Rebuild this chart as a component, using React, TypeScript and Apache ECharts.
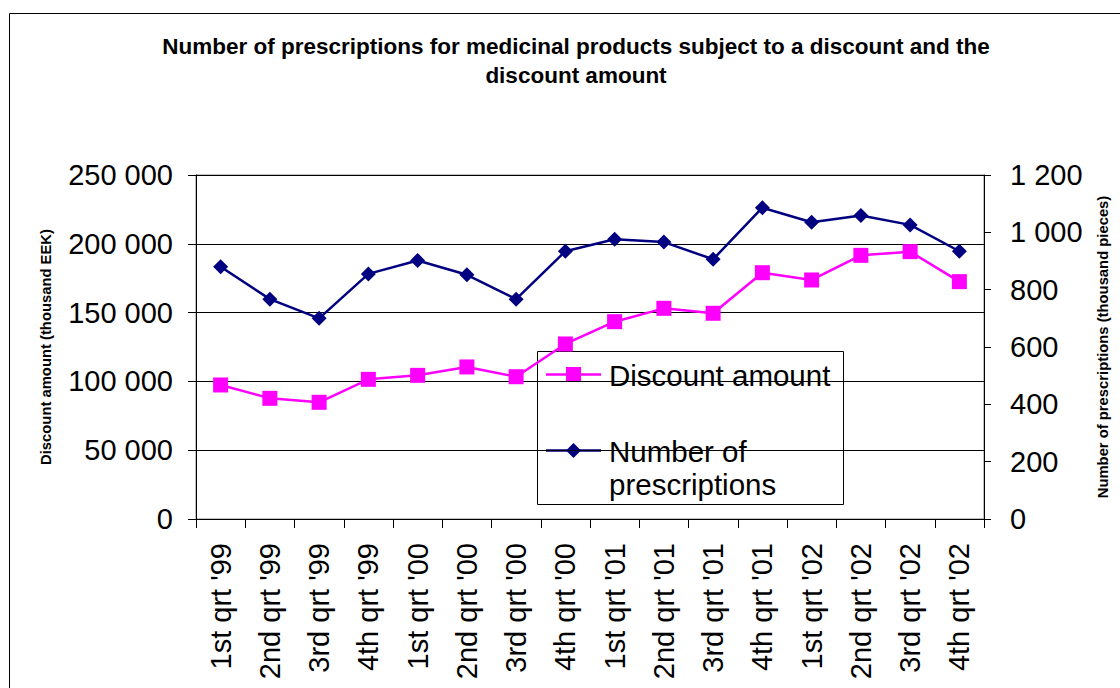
import React, { useEffect, useRef } from "react";
import * as echarts from "echarts";

const categories = [
  "1st qrt '99", "2nd qrt '99", "3rd qrt '99", "4th qrt '99",
  "1st qrt '00", "2nd qrt '00", "3rd qrt '00", "4th qrt '00",
  "1st qrt '01", "2nd qrt '01", "3rd qrt '01", "4th qrt '01",
  "1st qrt '02", "2nd qrt '02", "3rd qrt '02", "4th qrt '02",
];
const discountAmount = [
  97400, 87700, 84800, 101500, 104400, 110500, 103400, 127200,
  143400, 153100, 149500, 179000, 173700, 191600, 194300, 172500,
];
const prescriptions = [
  880, 767, 700, 855, 902, 852, 767, 934,
  976, 966, 906, 1086, 1035, 1059, 1026, 934,
];
const discountName = "Discount amount";
const prescriptionsName = "Number of prescriptions";
const titleText =
  "Number of prescriptions for medicinal products subject to a discount and the\ndiscount amount";
const leftAxisName = "Discount amount (thousand EEK)";
const rightAxisName = "Number of prescriptions (thousand pieces)";

const FONT = "'Liberation Sans', Arial, sans-serif";
const PINK = "#FF00FF";
const NAVY = "#000080";

const fmt = (v: number) => String(v).replace(/\B(?=(\d{3})+(?!\d))/g, " ");

export default function App() {
  const ref = useRef<HTMLDivElement>(null);
  useEffect(() => {
    if (!ref.current) return;
    const chart = echarts.init(ref.current, null, { renderer: "svg" });
    chart.setOption({
      animation: false,
      backgroundColor: "#fff",
      textStyle: { fontFamily: FONT },
      title: {
        text: titleText,
        left: 571,
        top: 27,
        textAlign: "center",
        textStyle: {
          fontFamily: FONT,
          fontSize: 22.5,
          fontWeight: "bold",
          color: "#000",
          lineHeight: 29,
        },
      },
      grid: {
        left: 196,
        right: 136,
        top: 175,
        bottom: 169,
        show: true,
        borderColor: "#808080",
        borderWidth: 1,
      },
      xAxis: {
        type: "category",
        data: categories,
        boundaryGap: true,
        axisLine: { lineStyle: { color: "#000", width: 1 } },
        axisTick: { show: true, length: 9, interval: 0, lineStyle: { color: "#000" } },
        axisLabel: {
          rotate: 90,
          interval: 0,
          margin: 24,
          fontSize: 29,
          fontFamily: FONT,
          color: "#000",
        },
      },
      yAxis: [
        {
          type: "value",
          min: 0,
          max: 250000,
          interval: 50000,
          position: "left",
          name: leftAxisName,
          nameLocation: "middle",
          nameRotate: 90,
          nameGap: 143,
          nameTextStyle: { fontFamily: FONT, fontSize: 14.8, fontWeight: "bold", color: "#000" },
          axisLine: { show: true, lineStyle: { color: "#000" } },
          axisTick: { show: true, length: 8, lineStyle: { color: "#000" } },
          axisLabel: { formatter: fmt, fontSize: 29, margin: 23, color: "#000", fontFamily: FONT },
          splitLine: { show: true, lineStyle: { color: "#000", width: 1 } },
        },
        {
          type: "value",
          min: 0,
          max: 1200,
          interval: 200,
          position: "right",
          name: rightAxisName,
          nameLocation: "middle",
          nameRotate: 90,
          nameGap: 111,
          nameTextStyle: { fontFamily: FONT, fontSize: 14.8, fontWeight: "bold", color: "#000" },
          axisLine: { show: true, lineStyle: { color: "#000" } },
          axisTick: { show: true, length: 7, lineStyle: { color: "#000" } },
          axisLabel: { formatter: fmt, fontSize: 29, margin: 26, color: "#000", fontFamily: FONT },
          splitLine: { show: false },
        },
      ],
      series: [
        {
          name: prescriptionsName,
          type: "line",
          yAxisIndex: 1,
          data: prescriptions,
          symbol: "diamond",
          symbolSize: 15,
          itemStyle: { color: NAVY },
          lineStyle: { color: NAVY, width: 2.5 },
        },
        {
          name: discountName,
          type: "line",
          yAxisIndex: 0,
          data: discountAmount,
          symbol: "rect",
          symbolSize: 15,
          itemStyle: { color: PINK },
          lineStyle: { color: PINK, width: 2.5 },
        },
      ],
      graphic: [
        {
          type: "rect",
          z: 100,
          silent: true,
          shape: { x: 9.5, y: 13.5, width: 1300, height: 900 },
          style: { fill: "none", stroke: "#000", lineWidth: 1 },
        },
        {
          type: "group",
          z: 100,
          children: [
            {
              type: "rect",
              shape: { x: 537.5, y: 351.5, width: 306, height: 153 },
              style: { fill: "#fff", stroke: "#000", lineWidth: 1 },
            },
            {
              type: "line",
              shape: { x1: 546, y1: 374.5, x2: 601, y2: 374.5 },
              style: { stroke: PINK, lineWidth: 2.5 },
            },
            {
              type: "rect",
              shape: { x: 566, y: 367, width: 15, height: 15 },
              style: { fill: PINK },
            },
            {
              type: "text",
              x: 609,
              y: 375,
              style: {
                text: discountName,
                font: `29.5px ${FONT}`,
                fill: "#000",
                verticalAlign: "middle",
                align: "left",
              },
            },
            {
              type: "line",
              shape: { x1: 546, y1: 450.5, x2: 601, y2: 450.5 },
              style: { stroke: NAVY, lineWidth: 2.5 },
            },
            {
              type: "polygon",
              shape: {
                points: [
                  [573.5, 443],
                  [581, 450.5],
                  [573.5, 458],
                  [566, 450.5],
                ],
              },
              style: { fill: NAVY },
            },
            {
              type: "text",
              x: 609,
              y: 451,
              style: {
                text: "Number of",
                font: `29.5px ${FONT}`,
                fill: "#000",
                verticalAlign: "middle",
                align: "left",
              },
            },
            {
              type: "text",
              x: 609,
              y: 484,
              style: {
                text: "prescriptions",
                font: `29.5px ${FONT}`,
                fill: "#000",
                verticalAlign: "middle",
                align: "left",
              },
            },
          ],
        },
      ],
    });
    return () => chart.dispose();
  }, []);
  return (
    <div
      ref={ref}
      style={{ position: "fixed", left: 0, top: 0, width: 1120, height: 688 }}
    />
  );
}
